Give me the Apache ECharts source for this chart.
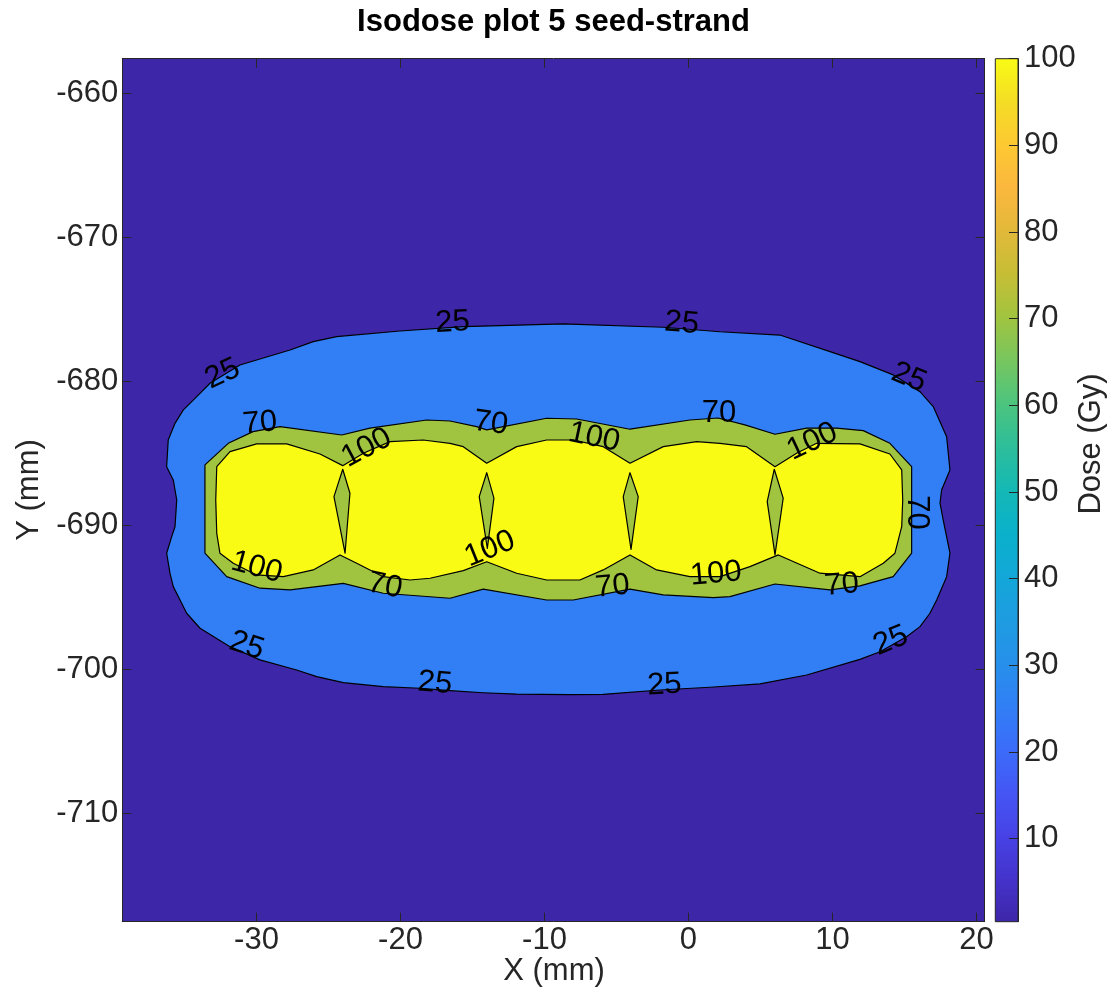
<!DOCTYPE html>
<html>
<head>
<meta charset="utf-8">
<script src="https://cdn.jsdelivr.net/npm/echarts@6/dist/echarts.min.js"></script>
<style>
html,body{margin:0;padding:0;background:#fff}
#chart{width:1112px;height:996px}
</style>
</head>
<body>
<div id="chart"></div>
<script>
// Axis extents (mm) and dose colour-scale range (Gy)
const X_MIN = -39.32, X_MAX = 20.56;
const Y_MIN = -717.53, Y_MAX = -657.60;
const DOSE_MIN = 0.42, DOSE_MAX = 100;

// Isodose levels (Gy)
const LEVELS = [25, 70, 100];

// 25 Gy isodose line, [x, y] in mm
const ISO_25 = [
  [-35.54,-688.24],[-35.78,-686.85],[-36.24,-685.93],[-36.13,-684.08],[-35.66,-682.92],
  [-35.08,-681.99],[-34.15,-681.07],[-33.23,-680.14],[-31.15,-678.87],[-27.67,-677.83],
  [-26.06,-677.25],[-24.43,-676.90],[-20.04,-676.51],[-15.64,-676.21],[-8.70,-676.02],
  [-1.75,-676.25],[2.19,-676.56],[6.35,-676.79],[9.83,-677.94],[11.91,-678.64],
  [14.22,-679.56],[16.08,-680.72],[17.00,-681.76],[17.93,-683.85],[18.16,-686.16],
  [17.58,-687.55],[17.47,-688.47],[17.69,-689.63],[18.16,-691.94],[17.93,-693.57],
  [17.24,-695.19],[16.77,-696.11],[16.08,-697.04],[15.15,-697.74],[13.30,-698.78],
  [11.91,-699.31],[8.21,-700.40],[4.97,-701.02],[1.49,-701.25],[-1.98,-701.44],
  [-5.92,-701.74],[-8.23,-701.76],[-11.93,-701.72],[-14.25,-701.63],[-16.56,-701.49],
  [-18.65,-701.32],[-21.20,-701.21],[-23.97,-700.93],[-25.82,-700.51],[-27.21,-700.05],
  [-29.76,-699.35],[-31.84,-698.43],[-33.92,-697.15],[-34.85,-696.11],[-35.31,-695.19],
  [-35.78,-694.26],[-36.01,-693.33],[-36.24,-691.94],[-35.89,-690.79],[-35.66,-690.10]
];

// 70 Gy isodose line
const ISO_70 = [
  [-33.58,-685.81],[-31.96,-684.31],[-30.24,-683.50],[-28.37,-683.15],[-24.08,-683.73],
  [-22.12,-683.26],[-18.18,-682.69],[-16.56,-682.76],[-14.71,-683.15],[-14.01,-683.38],
  [-9.85,-682.57],[-7.76,-682.62],[-4.06,-683.33],[0.10,-682.69],[2.05,-682.55],
  [3.92,-683.03],[6.01,-683.68],[8.21,-683.26],[10.29,-683.26],[12.14,-683.43],
  [13.99,-684.31],[15.50,-685.93],[15.50,-691.94],[14.22,-693.57],[11.91,-694.21],
  [9.83,-694.49],[6.01,-694.08],[2.88,-694.96],[1.72,-695.03],[-1.75,-694.84],
  [-4.06,-694.44],[-8.00,-695.19],[-9.85,-695.19],[-14.25,-694.44],[-16.56,-695.07],
  [-21.20,-694.72],[-23.97,-694.03],[-27.67,-694.49],[-29.76,-694.37],[-32.07,-693.57],
  [-33.58,-691.94]
];

// 100 Gy isodose line (outer boundary)
const ISO_100 = [
  [-32.76,-685.93],[-31.84,-684.89],[-29.99,-684.35],[-27.90,-684.35],[-25.59,-685.05],
  [-24.01,-685.86],[-22.58,-685.00],[-20.73,-684.19],[-18.42,-684.08],[-16.56,-684.31],
  [-15.64,-684.54],[-14.01,-685.69],[-11.93,-684.54],[-9.85,-684.08],[-8.00,-684.08],
  [-5.92,-684.54],[-4.06,-685.69],[-1.75,-684.54],[0.57,-684.19],[2.19,-684.31],
  [4.04,-684.54],[6.01,-685.93],[7.51,-685.00],[8.90,-684.31],[11.91,-684.35],
  [13.99,-685.05],[14.81,-686.16],[14.88,-688.24],[14.81,-690.10],[14.34,-691.94],
  [13.53,-692.64],[11.91,-693.57],[9.13,-693.33],[6.24,-692.06],[4.27,-692.87],
  [2.19,-693.57],[0.10,-693.57],[-2.21,-693.10],[-4.06,-692.06],[-5.92,-693.10],
  [-7.54,-693.80],[-9.85,-693.80],[-11.93,-693.33],[-14.01,-692.53],[-15.64,-693.15],
  [-17.95,-693.68],[-19.34,-693.80],[-21.20,-693.57],[-23.04,-692.64],[-24.20,-692.06],
  [-26.06,-693.10],[-28.14,-693.57],[-29.99,-693.45],[-31.61,-692.64],[-32.54,-691.94],
  [-32.76,-690.56],[-32.83,-688.24]
];

// Pockets below 100 Gy between neighbouring seeds
const GAP_1 = [[-24.01,-686.11],[-23.51,-687.78],[-23.85,-691.94],[-24.62,-688.01]];
const GAP_2 = [[-14.01,-686.35],[-13.51,-688.12],[-13.97,-691.60],[-14.53,-688.01]];
const GAP_3 = [[-4.06,-686.35],[-3.49,-688.01],[-3.99,-691.67],[-4.53,-688.01]];
const GAP_4 = [[5.96,-686.11],[6.58,-688.12],[6.01,-692.06],[5.47,-688.36]];

// Contour labels: [x, y, level, angle in degrees]
const LABELS = [
  [-32.36,-679.49,25,25],[-16.39,-675.92,25,3],[-0.47,-675.97,25,-5],[15.31,-679.74,25,-22],
  [-30.68,-698.37,25,-18],[-17.60,-700.97,25,-5],[-1.67,-701.09,25,3],[14.05,-698.02,25,22],
  [-29.76,-682.92,70,5],[-13.73,-682.92,70,-8],[2.12,-682.24,70,0],
  [-21.08,-694.21,70,-12],[-5.28,-694.26,70,5],[10.64,-694.15,70,5],[15.85,-689.11,70,-90],
  [-22.35,-684.63,100,28],[-6.56,-683.90,100,-12],[8.61,-684.19,100,25],
  [-29.99,-692.93,100,-15],[-13.79,-691.65,100,22],[1.91,-693.38,100,5]
];

// Parula colour map, evenly spaced stops from DOSE_MIN to DOSE_MAX
const PARULA = [
  '#3E26A8','#4433CB','#4742E6','#4456F4','#3B6CF9','#317FF5','#2690EA',
  '#1E9CE1','#13A7D8','#0AB1CB','#14B8B5','#2DBE9A','#4CC47E','#77C65F',
  '#A1C43F','#C6BE35','#E2B93A','#FBB73E','#FDC932','#F4DD25','#F9FB15'
];

const FONT = '"Liberation Sans", Arial, Helvetica, sans-serif';
const AXIS_COLOR = '#262626';
const FONT_SIZE = 31;

function hexToRgb(h) {
  const n = parseInt(h.slice(1), 16);
  return [(n >> 16) & 255, (n >> 8) & 255, n & 255];
}
function colorAt(v) {
  let t = (v - DOSE_MIN) / (DOSE_MAX - DOSE_MIN);
  t = Math.max(0, Math.min(1, t));
  const s = t * (PARULA.length - 1);
  const i = Math.min(Math.floor(s), PARULA.length - 2);
  const f = s - i;
  const a = hexToRgb(PARULA[i]), b = hexToRgb(PARULA[i + 1]);
  return 'rgb(' + a.map((c, k) => Math.round(c + (b[k] - c) * f)).join(',') + ')';
}

// One filled contour band, drawn as a polygon through the cartesian axes
function band(points, fill, outlined) {
  return {
    type: 'custom',
    coordinateSystem: 'cartesian2d',
    xAxisIndex: 0, yAxisIndex: 0,
    silent: true,
    clip: true,
    data: points,
    renderItem: function (params, api) {
      if (params.dataIndex !== 0) return;
      const pts = points.map(p => api.coord(p));
      return {
        type: 'polygon',
        shape: { points: pts },
        style: {
          fill: fill,
          stroke: outlined ? '#000' : null,
          lineWidth: outlined ? 1.2 : 0,
          lineJoin: 'round'
        }
      };
    }
  };
}

const plotCorners = [[X_MIN, Y_MIN], [X_MAX, Y_MIN], [X_MAX, Y_MAX], [X_MIN, Y_MAX]];

const series = [
  band(plotCorners, colorAt(DOSE_MIN), false),
  band(ISO_25, colorAt(LEVELS[0]), true),
  band(ISO_70, colorAt(LEVELS[1]), true),
  band(ISO_100, colorAt(LEVELS[2]), true),
  band(GAP_1, colorAt(LEVELS[1]), true),
  band(GAP_2, colorAt(LEVELS[1]), true),
  band(GAP_3, colorAt(LEVELS[1]), true),
  band(GAP_4, colorAt(LEVELS[1]), true),
  {
    // contour level labels
    type: 'custom',
    coordinateSystem: 'cartesian2d',
    xAxisIndex: 0, yAxisIndex: 0,
    silent: true,
    data: LABELS,
    renderItem: function (params, api) {
      const p = api.coord([api.value(0), api.value(1)]);
      return {
        type: 'text',
        x: p[0], y: p[1],
        rotation: api.value(3) * Math.PI / 180,
        style: {
          text: String(api.value(2)),
          font: FONT_SIZE + 'px ' + FONT,
          fill: '#000',
          align: 'center',
          verticalAlign: 'middle'
        }
      };
    }
  },
  {
    // colour bar
    type: 'custom',
    coordinateSystem: 'cartesian2d',
    xAxisIndex: 2, yAxisIndex: 2,
    silent: true,
    data: [[0, DOSE_MIN], [1, DOSE_MAX]],
    renderItem: function (params, api) {
      if (params.dataIndex !== 0) return;
      const lo = api.coord([0, DOSE_MIN]);
      const hi = api.coord([1, DOSE_MAX]);
      const stops = PARULA.map((c, i) => ({ offset: i / (PARULA.length - 1), color: c }));
      return {
        type: 'rect',
        shape: { x: lo[0], y: hi[1], width: hi[0] - lo[0], height: lo[1] - hi[1] },
        style: {
          fill: new echarts.graphic.LinearGradient(0, 1, 0, 0, stops),
          stroke: AXIS_COLOR,
          lineWidth: 1
        }
      };
    }
  }
];

function tickText(v) {
  return Math.abs(v - Math.round(v / 10) * 10) < 1e-6 ? String(Math.round(v)) : '';
}

const lineStyle = { color: AXIS_COLOR, width: 1 };
const labelStyle = { color: AXIS_COLOR, fontSize: FONT_SIZE, fontFamily: FONT };

const option = {
  animation: false,
  backgroundColor: '#fff',
  grid: [
    { left: 122.3, top: 58.7, width: 862.2, height: 863 },
    { left: 995.3, top: 58.7, width: 22.7, height: 863 }
  ],
  xAxis: [
    {
      gridIndex: 0, type: 'value', min: X_MIN, max: X_MAX, splitNumber: 6, position: 'bottom', z: 10,
      axisLine: { show: true, onZero: false, lineStyle: lineStyle },
      axisTick: { show: true, inside: true, length: 9, lineStyle: lineStyle },
      axisLabel: Object.assign({ show: true, margin: 3, showMinLabel: false, showMaxLabel: false, formatter: tickText }, labelStyle),
      splitLine: { show: false }
    },
    {
      gridIndex: 0, type: 'value', min: X_MIN, max: X_MAX, splitNumber: 6, position: 'top', z: 10,
      axisLine: { show: true, onZero: false, lineStyle: lineStyle },
      axisTick: { show: true, inside: true, length: 9, lineStyle: lineStyle },
      axisLabel: { show: false },
      splitLine: { show: false }
    },
    { gridIndex: 1, type: 'value', min: 0, max: 1, show: false }
  ],
  yAxis: [
    {
      gridIndex: 0, type: 'value', min: Y_MIN, max: Y_MAX, splitNumber: 6, position: 'left', z: 10,
      axisLine: { show: true, onZero: false, lineStyle: lineStyle },
      axisTick: { show: true, inside: true, length: 9, lineStyle: lineStyle },
      axisLabel: Object.assign({ show: true, margin: 4, showMinLabel: false, showMaxLabel: false, formatter: tickText }, labelStyle),
      splitLine: { show: false }
    },
    {
      gridIndex: 0, type: 'value', min: Y_MIN, max: Y_MAX, splitNumber: 6, position: 'right', z: 10,
      axisLine: { show: true, onZero: false, lineStyle: lineStyle },
      axisTick: { show: true, inside: true, length: 9, lineStyle: lineStyle },
      axisLabel: { show: false },
      splitLine: { show: false }
    },
    {
      gridIndex: 1, type: 'value', min: DOSE_MIN, max: DOSE_MAX, splitNumber: 10, position: 'right', z: 10,
      axisLine: { show: true, onZero: false, lineStyle: lineStyle },
      axisTick: { show: true, inside: true, length: 9, lineStyle: lineStyle },
      axisLabel: Object.assign({ show: true, margin: 6, showMinLabel: false, formatter: tickText }, labelStyle),
      splitLine: { show: false }
    }
  ],
  graphic: [
    {
      type: 'text', x: 553.5, y: 22,
      style: { text: 'Isodose plot 5 seed-strand', font: 'bold 31px ' + FONT, fill: '#000', align: 'center', verticalAlign: 'middle' }
    },
    {
      type: 'text', x: 554, y: 971,
      style: { text: 'X (mm)', font: FONT_SIZE + 'px ' + FONT, fill: AXIS_COLOR, align: 'center', verticalAlign: 'middle' }
    },
    {
      type: 'text', x: 29, y: 490, rotation: Math.PI / 2,
      style: { text: 'Y (mm)', font: FONT_SIZE + 'px ' + FONT, fill: AXIS_COLOR, align: 'center', verticalAlign: 'middle' }
    },
    {
      type: 'text', x: 1091, y: 444, rotation: Math.PI / 2,
      style: { text: 'Dose (Gy)', font: FONT_SIZE + 'px ' + FONT, fill: AXIS_COLOR, align: 'center', verticalAlign: 'middle' }
    }
  ],
  series: series
};

const chart = echarts.init(document.getElementById('chart'), null, { renderer: 'canvas' });
chart.setOption(option);
</script>
</body>
</html>
